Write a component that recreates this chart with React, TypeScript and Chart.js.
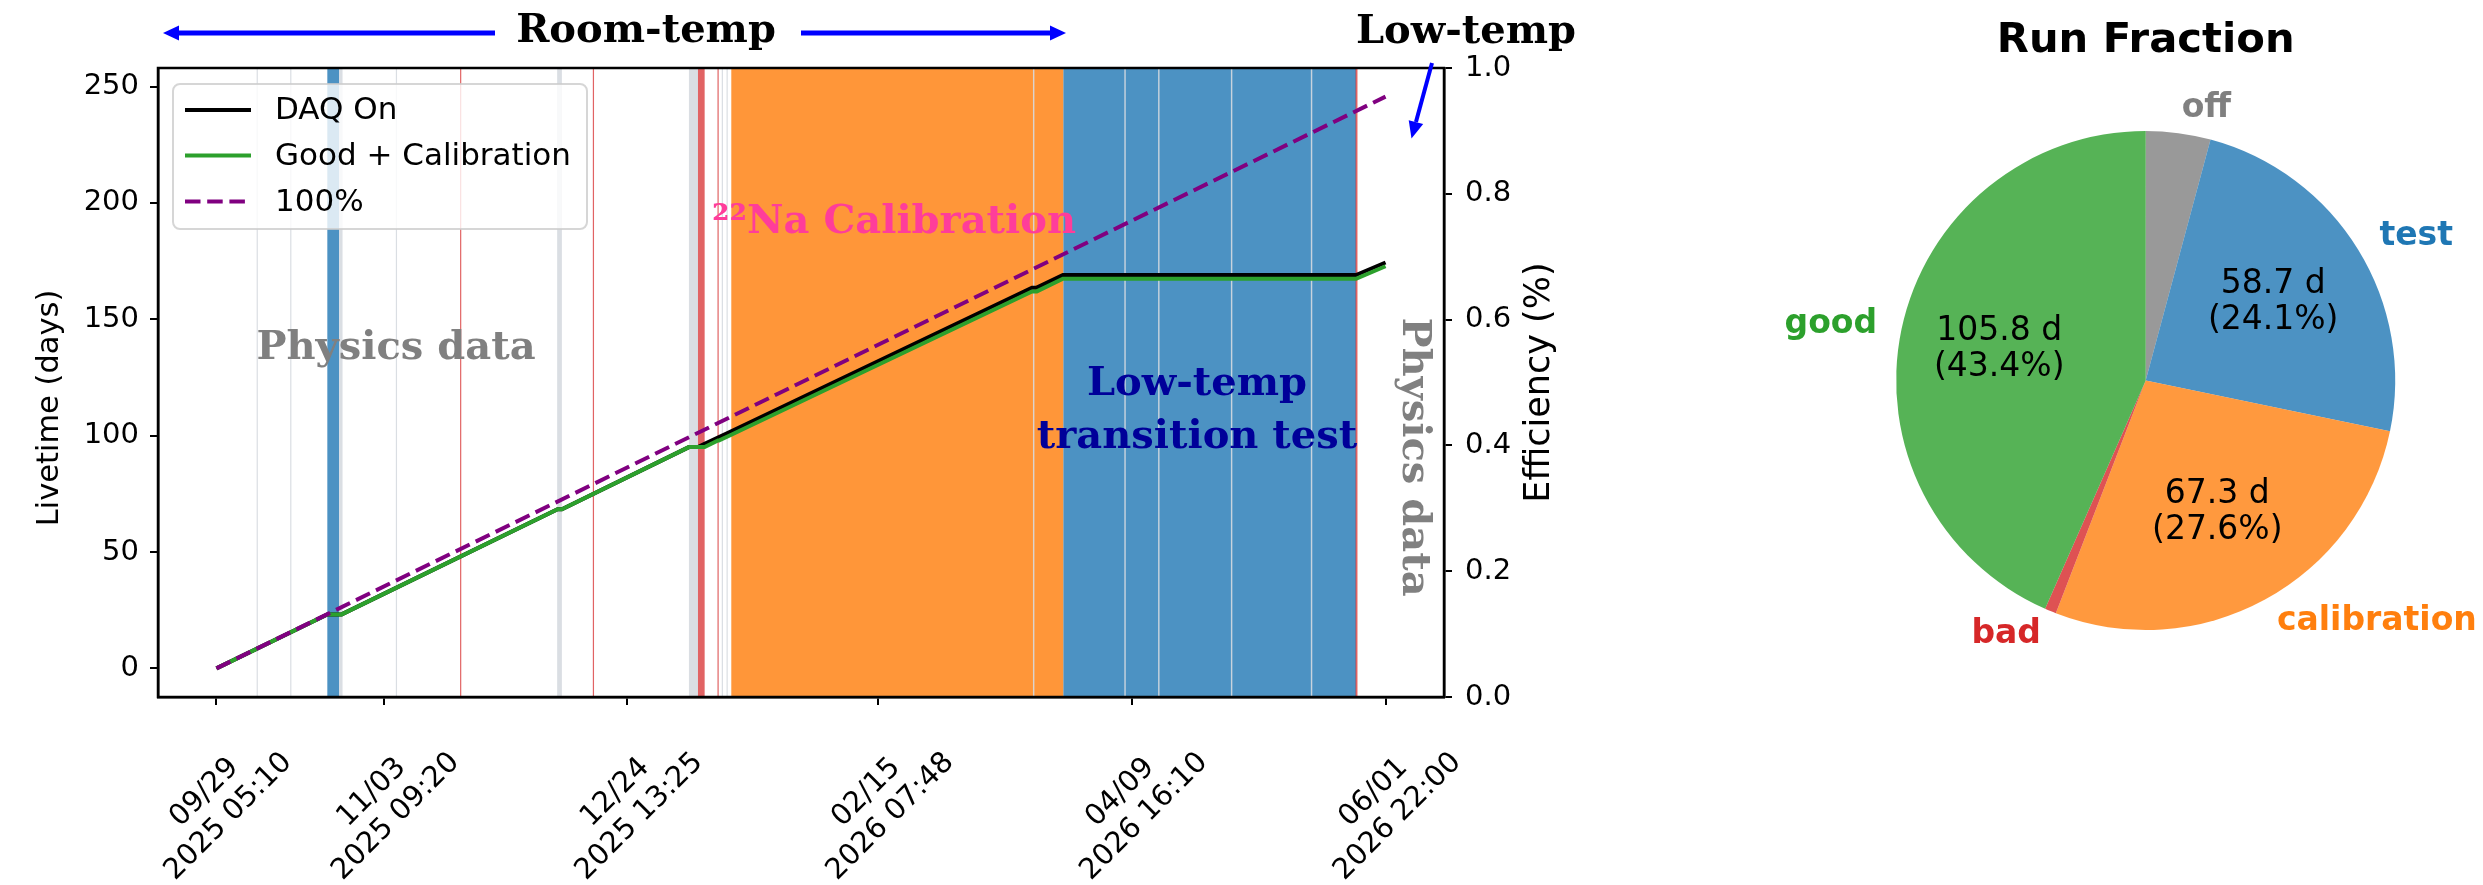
import React, { useEffect, useRef } from 'react';
import { Chart, registerables } from 'chart.js';

Chart.register(...registerables);

// ---------------- data (days) ----------------
const daqOnDays = [0, 23.3, 26.3, 71.7, 72.6, 99.3, 101.2, 102.6, 108.2, 171.4, 172.4, 177.9, 239.5, 245.7];
const daqOnLive = [0, 23.2, 23.2, 68.4, 68.4, 95.1, 95.1, 96.5, 101.9, 163.6, 163.6, 169.0, 169.0, 174.4];

const goodCalDays = [0, 23.3, 26.3, 71.7, 72.6, 99.3, 102.6, 105.4, 105.6, 108.2, 171.4, 172.4, 177.9, 239.5, 245.7];
const goodCalLive = [0, 23.2, 23.2, 68.4, 68.4, 95.1, 95.1, 97.9, 97.9, 100.4, 162.0, 162.0, 167.4, 167.4, 172.8];

const fullDays = [0, 245.7];
const fullLive = [0, 245.7];

// run-type periods [startDay, endDay]
const calibSpans = [[108.2, 178.0]];
const testSpans = [[23.3, 25.8], [178.0, 239.5]];
const offSpans = [
  [8.45, 8.7], [15.5, 15.75], [25.8, 26.5], [37.7, 37.95], [71.6, 72.6], [99.3, 101.2],
  [106.2, 106.45], [107.2, 107.45], [171.6, 171.9], [190.8, 191.1], [197.9, 198.2],
  [213.2, 213.5], [230.0, 230.3],
];
const badSpans = [[51.2, 51.45], [79.1, 79.35], [101.2, 102.6], [105.3, 105.55], [239.4, 239.8]];

// axis ticks
const xTickDays = [0, 35.17, 86.34, 139.11, 192.46, 245.7];
const xTickDates = ['09/29', '11/03', '12/24', '02/15', '04/09', '06/01'];
const xTickTimes = ['2025 05:10', '2025 09:20', '2025 13:25', '2026 07:48', '2026 16:10', '2026 22:00'];
const yTicks = [0, 50, 100, 150, 200, 250];
const effTicks = [0, 0.2, 0.4, 0.6, 0.8, 1.0];

// pie (clockwise from top)
const pieLabels = ['off', 'test', 'calibration', 'bad', 'good'];
const pieDays = [10.2, 58.7, 67.3, 1.8, 105.8];
const pieFills = ['rgba(128,128,128,0.8)', 'rgba(31,119,180,0.8)', 'rgba(255,127,14,0.8)', 'rgba(214,39,40,0.8)', 'rgba(44,160,44,0.8)'];
const pieTextColors = ['#808080', '#1f77b4', '#ff7f0e', '#d62728', '#2ca02c'];

const X_MIN = -12.285;
const X_MAX = 257.985;

const SANS = '"DejaVu Sans"';
const SERIF = '"DejaVu Serif"';

function drawArrow(ctx: CanvasRenderingContext2D, x0: number, y0: number, x1: number, y1: number, color: string, lw: number, headLen: number, headW: number) {
  const ang = Math.atan2(y1 - y0, x1 - x0);
  const bx = x1 - headLen * Math.cos(ang);
  const by = y1 - headLen * Math.sin(ang);
  ctx.save();
  ctx.strokeStyle = color;
  ctx.lineWidth = lw;
  ctx.beginPath();
  ctx.moveTo(x0, y0);
  ctx.lineTo(bx, by);
  ctx.stroke();
  ctx.fillStyle = color;
  ctx.beginPath();
  ctx.moveTo(x1, y1);
  ctx.lineTo(bx + (headW / 2) * Math.sin(ang), by - (headW / 2) * Math.cos(ang));
  ctx.lineTo(bx - (headW / 2) * Math.sin(ang), by + (headW / 2) * Math.cos(ang));
  ctx.closePath();
  ctx.fill();
  ctx.restore();
}

const spanPlugin = {
  id: 'spans',
  beforeDatasetsDraw(chart: any) {
    const { ctx, chartArea: a, scales } = chart;
    const x = scales.x;
    ctx.save();
    ctx.beginPath();
    ctx.rect(a.left, a.top, a.right - a.left, a.bottom - a.top);
    ctx.clip();
    const fill = (spans: number[][], color: string) => {
      ctx.fillStyle = color;
      spans.forEach(([s, e]) => {
        const x0 = x.getPixelForValue(s);
        const x1 = x.getPixelForValue(e);
        ctx.fillRect(x0, a.top, Math.max(x1 - x0, 1), a.bottom - a.top);
      });
    };
    fill(calibSpans, 'rgba(255,127,14,0.82)');
    fill(testSpans, 'rgba(31,119,180,0.8)');
    fill(offSpans, 'rgba(214,218,224,0.9)');
    fill(badSpans, 'rgba(214,39,40,0.72)');
    ctx.restore();
  },
};

const annotPlugin = {
  id: 'annots',
  afterDatasetsDraw(chart: any) {
    const { ctx } = chart;
    ctx.save();
    ctx.textAlign = 'center';
    ctx.textBaseline = 'alphabetic';
    ctx.font = `bold 40px ${SERIF}`;
    ctx.fillStyle = '#808080';
    ctx.fillText('Physics data', 396, 359);
    ctx.fillStyle = '#ff3d9a';
    ctx.fillText('²²Na Calibration', 894, 233);
    ctx.fillStyle = '#000099';
    ctx.fillText('Low-temp', 1197, 395);
    ctx.fillText('transition test', 1197, 448);
    // vertical Physics data
    ctx.save();
    ctx.translate(1403, 457);
    ctx.rotate(Math.PI / 2);
    ctx.fillStyle = '#808080';
    ctx.fillText('Physics data', 0, 0);
    ctx.restore();
    ctx.restore();
  },
  afterDraw(chart: any) {
    const { ctx, chartArea: a, scales } = chart;
    const x = scales.x;
    ctx.save();
    // frame
    ctx.strokeStyle = '#000';
    ctx.lineWidth = 2.5;
    ctx.strokeRect(a.left, a.top, a.right - a.left, a.bottom - a.top);

    // top annotations
    ctx.textAlign = 'center';
    ctx.textBaseline = 'alphabetic';
    ctx.font = `bold 40px ${SERIF}`;
    ctx.fillStyle = '#000';
    ctx.fillText('Room-temp', 646, 42);
    ctx.fillText('Low-temp', 1466, 43);
    drawArrow(ctx, 495, 33, 163, 33, '#0000ff', 5, 16, 15);
    drawArrow(ctx, 801, 33, 1066, 33, '#0000ff', 5, 16, 15);
    drawArrow(ctx, 1432, 63, 1411.5, 138.5, '#0000ff', 4, 17, 15);

    // x tick labels
    ctx.font = `29px ${SANS}`;
    ctx.fillStyle = '#000';
    ctx.textAlign = 'center';
    xTickDays.forEach((d, i) => {
      const px = x.getPixelForValue(d);
      ctx.save();
      ctx.translate(px + 17.5, 822);
      ctx.rotate(-Math.PI / 4);
      ctx.fillText(xTickDates[i], 0, -34);
      ctx.fillText(xTickTimes[i], 0, 0);
      ctx.restore();
    });

    // axis titles
    ctx.font = `30.5px ${SANS}`;
    ctx.save();
    ctx.translate(58, 408);
    ctx.rotate(-Math.PI / 2);
    ctx.fillText('Livetime (days)', 0, 0);
    ctx.restore();
    ctx.font = `35px ${SANS}`;
    ctx.save();
    ctx.translate(1549, (a.top + a.bottom) / 2);
    ctx.rotate(-Math.PI / 2);
    ctx.fillText('Efficiency (%)', 0, 0);
    ctx.restore();

    // legend
    const lx = 173, ly = 84, lw = 414, lh = 145;
    ctx.beginPath();
    if ((ctx as any).roundRect) (ctx as any).roundRect(lx, ly, lw, lh, 7);
    else ctx.rect(lx, ly, lw, lh);
    ctx.fillStyle = 'rgba(255,255,255,0.8)';
    ctx.fill();
    ctx.strokeStyle = 'rgba(204,204,204,0.8)';
    ctx.lineWidth = 2;
    ctx.stroke();
    const rows = [110, 155.5, 201.5];
    chart.data.datasets.forEach((ds: any, i: number) => {
      const ry = rows[i];
      ctx.save();
      ctx.strokeStyle = ds.borderColor;
      ctx.lineWidth = ds.borderWidth;
      ctx.setLineDash(ds.borderDash || []);
      ctx.beginPath();
      ctx.moveTo(185, ry);
      ctx.lineTo(251, ry);
      ctx.stroke();
      ctx.restore();
      ctx.fillStyle = '#000';
      ctx.font = `31px ${SANS}`;
      ctx.textAlign = 'left';
      ctx.textBaseline = 'middle';
      ctx.fillText(ds.label, 275, ry + 1);
    });
    ctx.restore();
  },
};

const piePlugin = {
  id: 'pieLabels',
  afterDraw(chart: any) {
    const { ctx } = chart;
    const meta = chart.getDatasetMeta(0);
    const total = pieDays.reduce((s, v) => s + v, 0);
    ctx.save();
    ctx.fillStyle = '#000';
    ctx.font = `bold 41.7px ${SANS}`;
    ctx.textAlign = 'center';
    ctx.textBaseline = 'alphabetic';
    ctx.fillText('Run Fraction', 545.7, 51.7);
    meta.data.forEach((arc: any, i: number) => {
      const { x, y, startAngle, endAngle, outerRadius } = arc;
      const mid = (startAngle + endAngle) / 2;
      const c = Math.cos(mid), s = Math.sin(mid);
      // outer label
      ctx.font = `bold 33px ${SANS}`;
      ctx.fillStyle = pieTextColors[i];
      ctx.textBaseline = 'middle';
      ctx.textAlign = c >= 0 ? 'left' : 'right';
      ctx.fillText(pieLabels[i], x + 1.1 * outerRadius * c, y + 1.1 * outerRadius * s);
      // inner label
      const pct = (pieDays[i] / total) * 100;
      if (pct > 5) {
        const ix = x + 0.6 * outerRadius * c;
        const iy = y + 0.6 * outerRadius * s;
        ctx.font = `33px ${SANS}`;
        ctx.fillStyle = '#000';
        ctx.textAlign = 'center';
        ctx.fillText(`${pieDays[i].toFixed(1)} d`, ix, iy - 18);
        ctx.fillText(`(${pct.toFixed(1)}%)`, ix, iy + 18);
      }
    });
    ctx.restore();
  },
};

export default function App() {
  const lineRef = useRef<HTMLCanvasElement>(null);
  const pieRef = useRef<HTMLCanvasElement>(null);

  useEffect(() => {
    const tickFont = { family: 'DejaVu Sans', size: 29 };
    const gridOpts = { drawOnChartArea: false, drawTicks: true, tickLength: 8, color: '#000', lineWidth: 2 };
    const borderOpts = { display: true, color: '#000', width: 2.5 };

    const lineChart = new Chart(lineRef.current as HTMLCanvasElement, {
      type: 'line',
      data: {
        datasets: [
          {
            label: 'DAQ On',
            data: daqOnDays.map((d, i) => ({ x: d, y: daqOnLive[i] })),
            borderColor: '#000000',
            borderWidth: 4,
            pointRadius: 0,
            tension: 0,
            order: 2,
            yAxisID: 'y',
          },
          {
            label: 'Good + Calibration',
            data: goodCalDays.map((d, i) => ({ x: d, y: goodCalLive[i] })),
            borderColor: '#2ca02c',
            borderWidth: 4,
            pointRadius: 0,
            tension: 0,
            order: 1,
            yAxisID: 'y',
          },
          {
            label: '100%',
            data: fullDays.map((d, i) => ({ x: d, y: fullLive[i] })),
            borderColor: '#800080',
            borderWidth: 4,
            borderDash: [15.5, 6.7],
            pointRadius: 0,
            tension: 0,
            order: 0,
            yAxisID: 'y',
          },
        ],
      },
      options: {
        responsive: false,
        animation: false,
        devicePixelRatio: 1,
        layout: { padding: { top: 68, left: 0, right: 0, bottom: 0 } },
        plugins: { legend: { display: false }, tooltip: { enabled: false }, title: { display: false } },
        scales: {
          x: {
            type: 'linear',
            position: 'bottom',
            min: X_MIN,
            max: X_MAX,
            afterBuildTicks: (s: any) => { s.ticks = xTickDays.map((v) => ({ value: v })); },
            afterFit: (s: any) => { s.height = 188; },
            ticks: { display: false },
            grid: gridOpts,
            border: borderOpts,
          },
          y: {
            type: 'linear',
            position: 'left',
            min: X_MIN,
            max: X_MAX,
            afterBuildTicks: (s: any) => { s.ticks = yTicks.map((v) => ({ value: v })); },
            afterFit: (s: any) => { s.width = 158; },
            ticks: { font: tickFont, color: '#000', padding: 11 },
            grid: gridOpts,
            border: borderOpts,
          },
          y2: {
            type: 'linear',
            position: 'right',
            min: 0,
            max: 1,
            afterBuildTicks: (s: any) => { s.ticks = effTicks.map((v) => ({ value: v })); },
            afterFit: (s: any) => { s.width = 156; },
            ticks: { font: tickFont, color: '#000', padding: 13, callback: (v: any) => Number(v).toFixed(1) },
            grid: gridOpts,
            border: borderOpts,
          },
        },
      } as any,
      plugins: [spanPlugin, annotPlugin],
    });

    const pieChart = new Chart(pieRef.current as HTMLCanvasElement, {
      type: 'pie',
      data: {
        labels: pieLabels,
        datasets: [{ data: pieDays, backgroundColor: pieFills, borderWidth: 0, hoverOffset: 0 }],
      },
      options: {
        responsive: false,
        animation: false,
        devicePixelRatio: 1,
        layout: { padding: { left: 296.2, right: 87.8, top: 131, bottom: 255 } },
        plugins: { legend: { display: false }, tooltip: { enabled: false } },
      } as any,
      plugins: [piePlugin],
    });

    return () => {
      lineChart.destroy();
      pieChart.destroy();
    };
  }, []);

  return (
    <div style={{ position: 'absolute', left: 0, top: 0, width: 2483, height: 885, background: '#ffffff', overflow: 'hidden' }}>
      <canvas ref={lineRef} width={1600} height={885} style={{ position: 'absolute', left: 0, top: 0, width: 1600, height: 885 }} />
      <canvas ref={pieRef} width={883} height={885} style={{ position: 'absolute', left: 1600, top: 0, width: 883, height: 885 }} />
    </div>
  );
}
